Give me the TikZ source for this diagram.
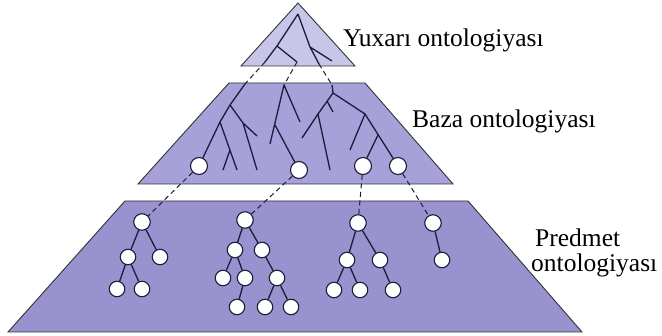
\documentclass[tikz,border=0pt]{standalone}
\usepackage{fontspec}
\setmainfont{Liberation Serif}
\newfontfamily\lblfont{Liberation Serif}
\definecolor{topc}{RGB}{200,198,232}
\definecolor{midc}{RGB}{166,161,216}
\definecolor{botc}{RGB}{152,146,206}
\definecolor{ink}{RGB}{28,28,60}
\begin{document}
\begin{tikzpicture}[x=1pt,y=-1pt,
 layer/.style={draw=black!80, line width=0.9pt},
 branch/.style={draw=ink, line width=1.3pt},
 link/.style={draw=ink, line width=1pt, dash pattern=on 5pt off 3.5pt},
 circ/.style={circle, draw=ink, fill=white, line width=1.1pt, minimum size=15.5pt, inner sep=0pt},
 mcirc/.style={circ, minimum size=17pt},
 lbl/.style={anchor=base west, inner sep=0pt, font=\lblfont\fontsize{25.5}{25.5}\selectfont}]
\useasboundingbox (0,0) rectangle (662,336);
\path[fill=white] (0,0) rectangle (662,336);
% layers
\draw[layer, fill=topc] (298,3) -- (355,66) -- (241,66) -- cycle;
\draw[layer, fill=midc] (229,83) -- (365,83) -- (453,184) -- (138,184) -- cycle;
\draw[layer, fill=botc] (125,201) -- (468,201) -- (582,332) -- (8,332) -- cycle;
% top tree
\coordinate (t0) at (298,14);
\coordinate (t1) at (277,46);
\coordinate (t2) at (310,47);
\coordinate (tl1) at (265,62);
\coordinate (tl2) at (297,62);
\coordinate (tl3) at (319,64);
\coordinate (tl4) at (332,61);
\draw[branch] (t0) -- (t1) -- (tl1) (t1) -- (tl2) (t0) -- (t2) -- (tl3) (t2) -- (tl4);
% middle roots
\coordinate (ma) at (245,84);
\coordinate (mb) at (284,85);
\coordinate (mc) at (332,85);
\draw[link] (tl1) -- (ma);
\draw[link] (tl2) -- (mb);
\draw[link] (tl3) -- (mc);
% middle circles
\node[mcirc] (mA) at (199,166) {};
\node[mcirc] (mB) at (299,170) {};
\node[mcirc] (mC) at (363,166) {};
\node[mcirc] (mD) at (398,166) {};
% tree A
\coordinate (a1) at (230,105);
\coordinate (a2) at (220,122);
\coordinate (a3) at (243,123);
\coordinate (a4) at (230,150);
\coordinate (al1) at (237,170);
\coordinate (al2) at (223,170);
\coordinate (al3) at (257,136);
\coordinate (al4) at (257,170);
\draw[branch] (ma) -- (a1) -- (a2) -- (mA) (a2) -- (al1) (a4) -- (al2)
  (a1) -- (a3) -- (al3) (a3) -- (al4);
% tree B
\coordinate (b1) at (270,144);
\coordinate (b2) at (300,122);
\coordinate (b3) at (275,125);
\draw[branch] (mb) -- (b1) (mb) -- (b2) (b3) -- (mB);
% tree C
\coordinate (c1) at (333,93);
\coordinate (c2) at (318,114);
\coordinate (c3) at (365,114);
\coordinate (c4) at (327,101);
\coordinate (c5) at (378,135);
\coordinate (cl1) at (302,138);
\coordinate (cl2) at (330,170);
\coordinate (cl3) at (333,112);
\coordinate (cl4) at (350,150);
\draw[branch] (mc) -- (c1) -- (c2) -- (cl1) (c2) -- (cl2) (c4) -- (cl3)
  (c1) -- (c3) -- (cl4) (c3) -- (mD) (c5) -- (mC);
% bottom circles
\node[circ, minimum size=16.5pt] (p1) at (142,222) {};
\node[circ] (p2) at (128,257) {};
\node[circ] (p3) at (160,257) {};
\node[circ] (p4) at (117,289) {};
\node[circ] (p5) at (142,289) {};
\node[circ, minimum size=16.5pt] (q1) at (245,220) {};
\node[circ] (q2) at (235,250) {};
\node[circ] (q3) at (262,250) {};
\node[circ] (q4) at (223,278) {};
\node[circ] (q5) at (245,278) {};
\node[circ] (q6) at (277,278) {};
\node[circ] (q7) at (237,307) {};
\node[circ] (q8) at (265,307) {};
\node[circ] (q9) at (291,307) {};
\node[circ, minimum size=16.5pt] (r1) at (358,223) {};
\node[circ] (r2) at (347,260) {};
\node[circ] (r3) at (380,260) {};
\node[circ] (r4) at (334,290) {};
\node[circ] (r5) at (360,290) {};
\node[circ] (r6) at (393,290) {};
\node[circ, minimum size=16.5pt] (s1) at (433,223) {};
\node[circ] (s2) at (442,260) {};
\draw[branch] (p1) -- (p2) (p1) -- (p3) (p2) -- (p4) (p2) -- (p5);
\draw[branch] (q1) -- (q2) (q1) -- (q3) (q2) -- (q4) (q2) -- (q5) (q3) -- (q6)
  (q5) -- (q7) (q6) -- (q8) (q6) -- (q9);
\draw[branch] (r1) -- (r2) (r1) -- (r3) (r2) -- (r4) (r2) -- (r5) (r3) -- (r6);
\draw[branch] (s1) -- (s2);
% links middle to bottom
\draw[link] (mA) -- (p1);
\draw[link] (mB) -- (q1);
\draw[link] (mC) -- (r1);
\draw[link] (mD) -- (s1);
% labels
\node[lbl] (ly) at (343,47) {Yuxarı ontologiyası};
\node[lbl] (lb) at (412,128) {Baza ontologiyası};
\node[lbl] (lp1) at (535,247) {Predmet};
\node[lbl] (lp2) at (531,272) {ontologiyası};
\end{tikzpicture}
\end{document}
